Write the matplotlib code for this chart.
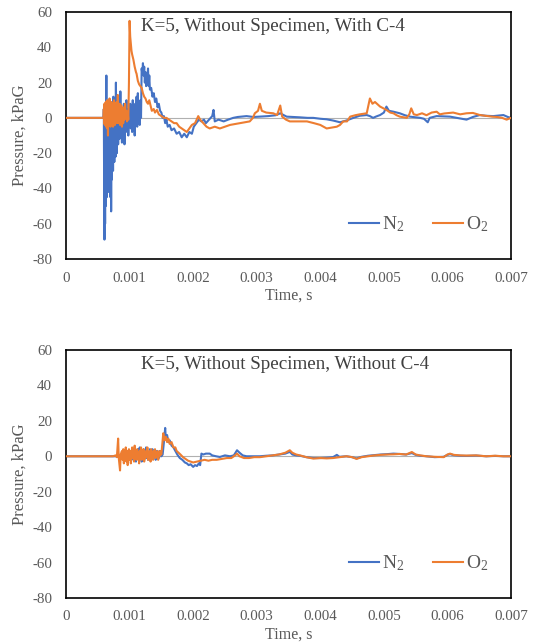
import numpy as np
import matplotlib
matplotlib.use("Agg")
import matplotlib.pyplot as plt

plt.rcParams['font.family'] = ['Liberation Serif', 'DejaVu Serif']
plt.rcParams['mathtext.fontset'] = 'custom'
plt.rcParams['mathtext.rm'] = 'Liberation Serif'
plt.rcParams['mathtext.default'] = 'regular'
plt.rcParams['axes.unicode_minus'] = False

# time in ms, pressure in kPaG
top_n2 = [(0, 0), (0.59, 0), (0.595, 5), (0.60, -40), (0.605, -69), (0.61, -20), (0.615, -60), (0.62, 3),
          (0.625, -50), (0.63, -10), (0.635, 24), (0.64, -45), (0.645, -5), (0.65, -40), (0.655, 5), (0.66, -35),
          (0.665, 8), (0.67, -42), (0.675, 0), (0.68, -30), (0.685, 10), (0.69, -38), (0.695, 5), (0.70, -45),
          (0.705, 0), (0.71, -53), (0.715, -10), (0.72, -35), (0.725, 2), (0.73, -28), (0.735, 5), (0.74, -30),
          (0.745, 12), (0.75, -20), (0.755, 5), (0.76, -25), (0.765, 0), (0.77, -18), (0.775, 8), (0.78, -22),
          (0.785, 20), (0.79, -15), (0.795, 5), (0.80, -20), (0.805, 0), (0.81, -12), (0.815, 10), (0.82, -15),
          (0.825, 3), (0.83, -10), (0.835, 8), (0.84, -12), (0.845, 5), (0.85, -8), (0.855, 15), (0.86, -10),
          (0.87, 6), (0.88, -14), (0.89, 4), (0.90, -8), (0.91, 8), (0.92, -15), (0.93, 2), (0.94, -6),
          (0.95, 10), (0.96, -8), (0.97, 5), (0.98, -10), (0.99, 3), (1.00, -5), (1.01, 8), (1.02, -6),
          (1.03, 6), (1.04, -8), (1.05, 10), (1.06, -4), (1.07, 5), (1.08, -10), (1.09, 8), (1.10, -3),
          (1.11, 12), (1.12, -5), (1.13, 14), (1.14, -2), (1.15, 8), (1.16, -4), (1.17, 10), (1.18, 0),
          (1.19, 28), (1.20, 25), (1.21, 31), (1.22, 24), (1.23, 29), (1.24, 20), (1.25, 26), (1.26, 18),
          (1.27, 25), (1.28, 22), (1.29, 28), (1.30, 18), (1.31, 24), (1.32, 16), (1.34, 17), (1.36, 12),
          (1.38, 14), (1.40, 9), (1.42, 11), (1.44, 6), (1.46, 8), (1.48, 4), (1.50, 3), (1.52, 0),
          (1.54, 1), (1.56, -3), (1.58, -1), (1.60, -5), (1.63, -4), (1.66, -7), (1.70, -6), (1.74, -9),
          (1.78, -8), (1.82, -11), (1.86, -9), (1.90, -11), (1.94, -8), (1.98, -9), (2.01, -5), (2.05, -3),
          (2.09, -1), (2.13, -2), (2.17, -1), (2.20, -3), (2.25, -1), (2.30, 1), (2.32, 4.5), (2.34, -2),
          (2.40, -1), (2.48, -2), (2.55, -1), (2.63, 0), (2.70, 0.5), (2.84, 1), (2.95, 0.5), (3.05, 0.7),
          (3.18, 1), (3.30, 1.5), (3.37, 2.6), (3.47, 0.7), (3.58, 0.5), (3.68, 0.3), (3.80, 0), (3.89, 0),
          (4.00, -0.5), (4.10, -0.8), (4.20, -1.5), (4.31, -2.5), (4.36, -2), (4.41, -1.5), (4.52, 0), (4.62, 1.2),
          (4.73, 1.6), (4.78, 1), (4.83, 0), (4.88, 0.8), (4.94, 1.6), (5.00, 3), (5.04, 6.4), (5.08, 4),
          (5.15, 3.5), (5.25, 2.6), (5.33, 1.5), (5.41, 0.7), (5.50, 0.3), (5.57, 0), (5.63, -0.5), (5.69, -2.5),
          (5.72, 0), (5.83, 1), (5.95, 0.8), (6.04, 0.7), (6.15, 0), (6.30, -1), (6.40, 0.5), (6.51, 1.6),
          (6.60, 1.2), (6.72, 1), (6.80, 1.3), (6.88, 1.6), (6.95, 0.5), (7.00, 0)]

top_o2 = [(0, 0), (0.59, 0), (0.595, 5), (0.60, -3), (0.605, 8), (0.61, -4), (0.615, 6), (0.62, -2),
          (0.625, 9), (0.63, -5), (0.635, 4), (0.64, -3), (0.645, 10), (0.65, -6), (0.655, 3), (0.66, -10),
          (0.665, 2), (0.67, -4), (0.675, 8), (0.68, -2), (0.685, 11), (0.69, -3), (0.695, 6), (0.70, -5),
          (0.705, 4), (0.71, -1), (0.715, 9), (0.72, -4), (0.725, 5), (0.73, -2), (0.735, 7), (0.74, -5),
          (0.745, 3), (0.75, -3), (0.755, 10), (0.76, 0), (0.765, 6), (0.77, -4), (0.775, 8), (0.78, -2),
          (0.785, 5), (0.79, -1), (0.795, 9), (0.80, -3), (0.805, 4), (0.81, -2), (0.815, 13), (0.82, 2),
          (0.825, 7), (0.83, -3), (0.835, 5), (0.84, -1), (0.845, 8), (0.85, -4), (0.855, 4), (0.86, -2),
          (0.87, 7), (0.88, -5), (0.89, 3), (0.90, -3), (0.91, 6), (0.92, -1), (0.93, 8), (0.94, 0),
          (0.95, 4), (0.96, -2), (0.97, 3), (0.98, -1), (0.99, 20), (1.00, 55), (1.01, 46), (1.02, 42),
          (1.03, 38), (1.04, 36), (1.06, 33), (1.08, 29), (1.10, 26), (1.11, 25), (1.13, 21), (1.15, 19),
          (1.17, 18), (1.19, 17), (1.21, 14), (1.23, 12), (1.25, 11), (1.27, 9), (1.29, 8), (1.31, 10),
          (1.33, 7), (1.35, 4), (1.38, 5), (1.40, 3), (1.43, 4.5), (1.46, 2), (1.50, 1), (1.54, 0),
          (1.58, 0), (1.62, -1), (1.66, -2), (1.70, -3), (1.74, -3), (1.78, -5), (1.82, -6), (1.86, -7),
          (1.90, -8), (1.94, -6), (1.98, -4), (2.03, -3), (2.08, 1), (2.11, -1), (2.16, -3), (2.21, -5),
          (2.26, -6), (2.34, -5), (2.42, -6), (2.50, -5), (2.58, -4), (2.66, -3.5), (2.74, -3), (2.82, -2.5),
          (2.89, -2), (2.94, 0), (2.97, 2.6), (3.02, 4), (3.05, 8), (3.08, 4), (3.15, 3), (3.26, 2.6),
          (3.32, 1.6), (3.37, 7), (3.40, 0.7), (3.46, -1), (3.52, -2), (3.65, -2), (3.79, -2), (3.90, -3),
          (4.00, -4), (4.10, -6), (4.18, -5.5), (4.26, -5), (4.31, -4), (4.36, -2), (4.42, -2), (4.47, 0.7),
          (4.55, 1.5), (4.62, 2), (4.73, 2.6), (4.78, 11), (4.82, 8), (4.86, 9), (4.89, 8), (4.94, 6.4),
          (5.04, 4.5), (5.10, 3), (5.15, 2.6), (5.20, 1.5), (5.25, 0.7), (5.36, 0), (5.40, 2), (5.43, 5.4),
          (5.47, 2), (5.52, 1.6), (5.60, 2.6), (5.67, 1.5), (5.75, 3), (5.83, 3.5), (5.88, 2), (5.95, 2.5),
          (6.09, 3), (6.20, 2), (6.30, 2.6), (6.40, 2.8), (6.51, 1.6), (6.60, 1.2), (6.70, 0.7), (6.78, 0.5),
          (6.86, 0), (6.93, -1), (7.00, 0)]

bot_n2 = [(0, 0), (1.02, 0), (1.03, 2), (1.04, -1), (1.05, 3), (1.06, -2), (1.07, 4), (1.08, 0),
          (1.09, 2), (1.10, -3), (1.11, 3), (1.12, -1), (1.13, 4), (1.14, -2), (1.15, 1), (1.16, 5),
          (1.17, -1), (1.18, 2), (1.19, -3), (1.20, 3), (1.21, 0), (1.22, 4), (1.23, -2), (1.24, 2),
          (1.25, 0), (1.26, 5), (1.27, -1), (1.28, 3), (1.29, -2), (1.30, 2), (1.31, 0), (1.32, 4),
          (1.33, -2), (1.34, 3), (1.35, 1), (1.36, 4), (1.37, -1), (1.38, 2), (1.39, 0), (1.40, 3),
          (1.41, -2), (1.42, 1), (1.43, 3), (1.44, 0), (1.45, 2), (1.46, -1), (1.47, 3), (1.48, 0),
          (1.49, 2), (1.50, 0), (1.52, 1), (1.54, 8), (1.56, 16), (1.57, 10), (1.59, 12), (1.61, 8),
          (1.63, 9), (1.66, 6), (1.69, 5), (1.72, 3), (1.75, 1), (1.79, -1), (1.83, -2), (1.87, -3.5),
          (1.90, -4), (1.93, -5), (1.96, -4.5), (2.00, -6), (2.03, -5), (2.06, -5.5), (2.09, -4), (2.11, -5),
          (2.13, 1.5), (2.16, 1), (2.20, 1.5), (2.26, 1.5), (2.30, 0.5), (2.36, 0), (2.42, -0.4), (2.50, 0.5),
          (2.58, 0), (2.64, 0.5), (2.69, 3.4), (2.73, 2), (2.78, 0.5), (2.84, 0), (2.92, 0), (3.05, 0),
          (3.15, 0.3), (3.25, 0.5), (3.35, 1), (3.45, 1.5), (3.52, 2.5), (3.56, 1), (3.62, 0.5), (3.68, 0.3),
          (3.78, -0.5), (3.89, -1), (4.00, -1), (4.10, -0.8), (4.20, -0.5), (4.26, 0.8), (4.30, -0.3), (4.41, 0),
          (4.50, -0.5), (4.57, -1.2), (4.65, -0.3), (4.75, 0.3), (4.83, 0.6), (4.95, 1), (5.05, 1.2), (5.15, 1.5),
          (5.25, 1.3), (5.35, 1), (5.44, 1.8), (5.50, 0.8), (5.57, 0.3), (5.67, 0), (5.80, -0.5), (5.94, -0.3),
          (6.00, 0.8), (6.04, 1.2), (6.10, 0.6), (6.20, 0.3), (6.30, 0.2), (6.45, 0.4), (6.61, 0), (6.75, 0.2),
          (6.88, 0), (7.00, 0)]

bot_o2 = [(0, 0), (0.74, 0), (0.78, 0.5), (0.80, -0.5), (0.82, 10), (0.83, -1), (0.85, -8), (0.86, 1),
          (0.88, 3), (0.89, -2), (0.90, 4), (0.91, -4), (0.92, 2), (0.93, -1), (0.94, 5), (0.95, -3),
          (0.96, 3), (0.97, -5), (0.98, 1), (0.99, 4), (1.00, -2), (1.01, 3), (1.02, -4), (1.03, 2),
          (1.04, 5), (1.05, -1), (1.06, 3), (1.07, -3), (1.08, 6), (1.09, 0), (1.10, 3), (1.11, -2),
          (1.12, 4), (1.13, -1), (1.14, 2), (1.15, -4), (1.16, 3), (1.17, 0), (1.18, 5), (1.19, -2),
          (1.20, 2), (1.21, -1), (1.22, 4), (1.23, -3), (1.24, 2), (1.25, -1), (1.26, 3), (1.27, 0),
          (1.28, 5), (1.29, -2), (1.30, 2), (1.31, -1), (1.32, 3), (1.33, -3), (1.34, 4), (1.35, 0),
          (1.36, 2), (1.37, -2), (1.38, 3), (1.39, 0), (1.40, 4), (1.41, -1), (1.42, 2), (1.43, 0),
          (1.44, 3), (1.45, -2), (1.46, 2), (1.47, 0), (1.48, 3), (1.49, 1), (1.50, 1), (1.52, 9),
          (1.53, 13), (1.55, 9), (1.57, 11), (1.59, 8), (1.61, 10), (1.63, 7), (1.66, 8), (1.69, 5),
          (1.72, 5), (1.74, 3), (1.77, 2), (1.80, 1), (1.84, -0.5), (1.88, -1.5), (1.92, -2.5), (1.96, -3),
          (2.00, -3.5), (2.06, -3), (2.12, -2.5), (2.18, -2), (2.24, -2.5), (2.30, -2), (2.37, -2), (2.45, -1.5),
          (2.53, -1), (2.60, -1), (2.66, 0.5), (2.69, 1.5), (2.73, 0), (2.80, -1), (2.88, -1), (2.96, -0.5),
          (3.05, -0.5), (3.15, 0), (3.25, 0.5), (3.35, 1), (3.45, 2), (3.52, 3.4), (3.56, 2), (3.62, 1),
          (3.68, 0.5), (3.78, -0.5), (3.89, -1.3), (4.00, -1), (4.10, -1.2), (4.20, -1), (4.30, -0.5), (4.41, 0),
          (4.50, -0.5), (4.57, -1.5), (4.65, -0.5), (4.75, 0), (4.83, 0.4), (4.95, 0.8), (5.05, 1), (5.15, 1.1),
          (5.25, 1.3), (5.35, 1), (5.44, 2.4), (5.50, 1), (5.57, 0.5), (5.67, 0), (5.80, -0.3), (5.94, -0.5),
          (6.00, 1), (6.04, 1.5), (6.10, 0.8), (6.20, 0.5), (6.30, 0.4), (6.45, 0.5), (6.61, 0), (6.75, 0.3),
          (6.88, 0), (7.00, 0)]

titles = ["K=5, Without Specimen, With C-4", "K=5, Without Specimen, Without C-4"]
x_ticks = [0, 0.001, 0.002, 0.003, 0.004, 0.005, 0.006, 0.007]
x_labels = ["0", "0.001", "0.002", "0.003", "0.004", "0.005", "0.006", "0.007"]
y_ticks = [-80, -60, -40, -20, 0, 20, 40, 60]

blue = '#4472C4'
orange = '#ED7D31'
txt = '#595959'

fig = plt.figure(figsize=(5.34, 6.43), dpi=100)
ax1 = fig.add_axes([0.1236, 0.5972, 0.8334, 0.3841])
ax2 = fig.add_axes([0.1236, 0.0700, 0.8334, 0.3857])

panels = [(ax1, top_n2, top_o2, titles[0]), (ax2, bot_n2, bot_o2, titles[1])]
for ax, n2, o2, title in panels:
    n2 = np.array(n2)
    o2 = np.array(o2)
    ax.axhline(0, color='#b0b0b0', lw=0.8, zorder=1)
    ax.plot(n2[:, 0] / 1000, n2[:, 1], color=blue, lw=1.5, label='N$_2$', zorder=2)
    ax.plot(o2[:, 0] / 1000, o2[:, 1], color=orange, lw=1.5, label='O$_2$', zorder=3)
    ax.set_xlim(0, 0.007)
    ax.set_ylim(-80, 60)
    ax.set_xticks(x_ticks)
    ax.set_xticklabels(x_labels)
    ax.set_yticks(y_ticks)
    ax.tick_params(length=0, labelsize=10.8, labelcolor=txt, pad=9)
    ax.tick_params(axis='y', pad=10)
    for s in ax.spines.values():
        s.set_color('black')
        s.set_linewidth(1.2)
    ax.set_xlabel('Time, s', fontsize=11.5, color=txt, labelpad=2)
    ax.set_ylabel('Pressure, kPaG', fontsize=12, color=txt, labelpad=3)
    ax.text(0.168, 0.94, title, transform=ax.transAxes, fontsize=13.7, color='#404040',
            ha='left', va='center')
    ax.legend(loc='lower right', bbox_to_anchor=(0.988, 0.03), ncol=2, frameon=False,
              fontsize=14, handlelength=1.55, columnspacing=1.45, handletextpad=0.15,
              labelcolor=txt)

fig.savefig('out.png', dpi=100)
